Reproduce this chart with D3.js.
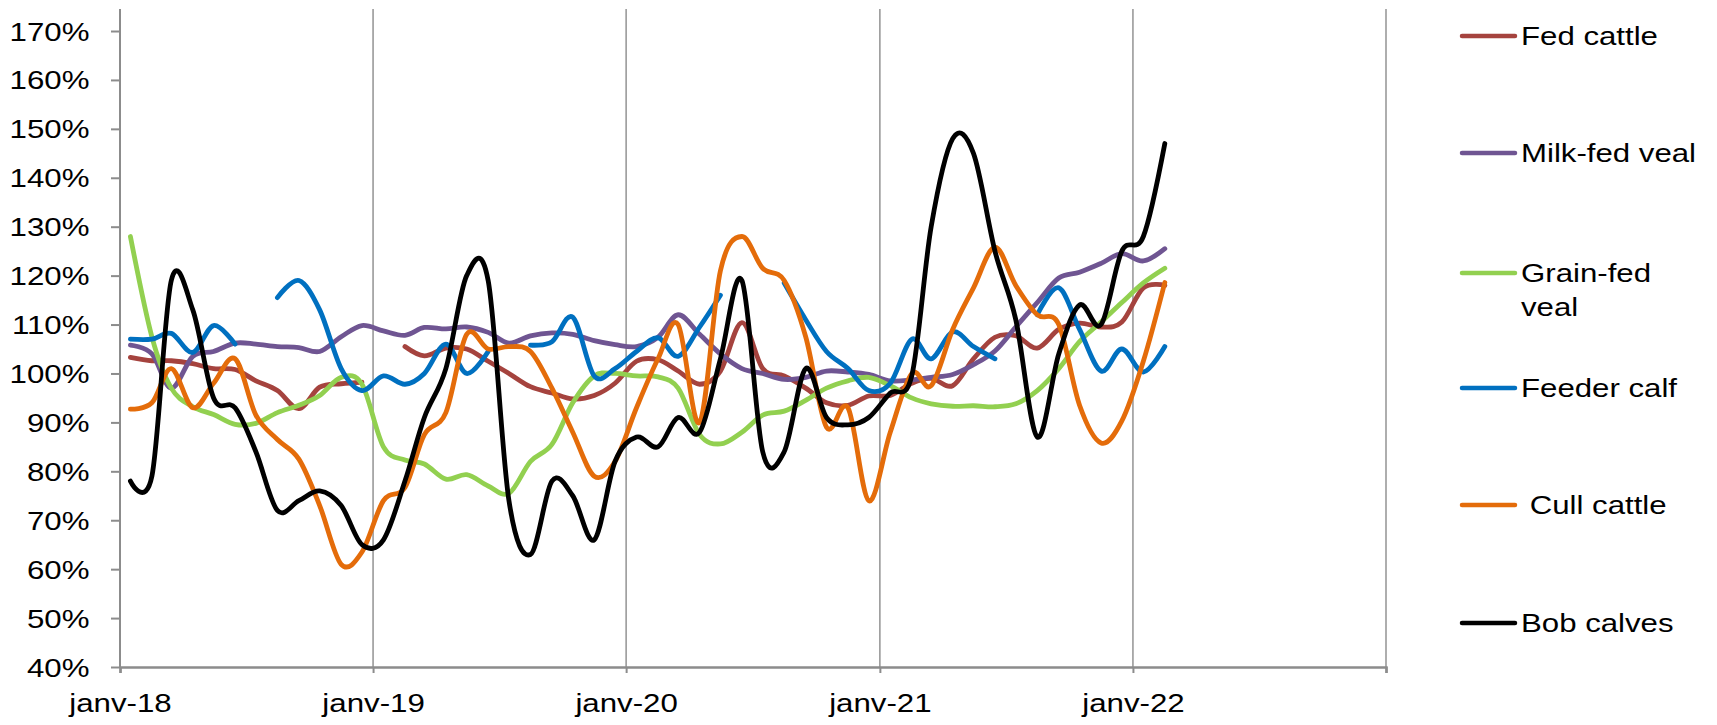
<!DOCTYPE html>
<html>
<head>
<meta charset="utf-8">
<script src="https://cdn.jsdelivr.net/npm/d3@7/dist/d3.min.js"></script>
<style>
  body { margin: 0; background: #fff; }
  svg text { font-family: "Liberation Sans", Arial, sans-serif; fill: #000; }
</style>
</head>
<body>
<svg id="chart" width="1717" height="725"></svg>
<script>
// monthly points, Jan 2018 .. Feb 2022
const months = d3.timeMonth.range(new Date(2018, 0, 1), new Date(2022, 2, 1));

const xTickLabels = ["janv-18", "janv-19", "janv-20", "janv-21", "janv-22", ""];
const yTicks = [40, 50, 60, 70, 80, 90, 100, 110, 120, 130, 140, 150, 160, 170];

const seriesNames = ["Fed cattle", "Milk-fed veal", "Grain-fed veal", "Feeder calf", " Cull cattle", "Bob calves"];
const legendLines = [["Fed cattle"], ["Milk-fed veal"], ["Grain-fed", "veal"], ["Feeder calf"], [" Cull cattle"], ["Bob calves"]];
const colors = ["#A5433E", "#6F5592", "#92D050", "#0070C0", "#E46C0A", "#000000"];

const fedCattle = [103.3, 102.6, 102.6, 102, 101, 100.8, 98.5, 96.5, 92.8, 97.2, 97.9, 98.2, null, 105.5, 103.6, 105.2, 105, 102.5, 100, 97.3,
  96, 94.8, 95.5, 98, 102.5, 102.8, 100.5, 97.8, 100.5, 110.4, 101, 99.5, 97, 94, 93.5, 95.4, 95.5, 98, 99, 97.5,
  103, 107.4, 107.7, 105.2, 109, 110.3, 109.5, 110.5, 117.5, 118];
const milkFedVeal = [105.8, 104, 97, 103.5, 104.5, 106.2, 106, 105.5, 105.3, 104.5, 107.5, 109.8, 108.7, 107.8, 109.4, 109.1, 109.5, 108.4, 106.2, 107.7,
  108.3, 108, 106.7, 105.9, 105.5, 107.4, 112, 108, 104, 101, 100, 98.8, 99.2, 100.5, 100.3, 99.8, 98.5, 98.7, 99.2, 99.8,
  101.8, 104.6, 109.5, 114.5, 119.5, 120.7, 122.5, 124.5, 123, 125.5];
const grainFedVeal = [128, 107.5, 97, 93.2, 91.6, 89.6, 89.8, 92, 93.5, 95.5, 99.2, 97.8, 85, 82.3, 81.5, 78.4, 79.3, 77, 75.5, 82,
  85.5, 94, 99.5, 100, 99.5, 99.3, 97, 87.5, 85.6, 88, 91.5, 92.3, 94.5, 97, 98.5, 99.2, 97.5, 95, 93.8, 93.3,
  93.4, 93.2, 93.8, 96.5, 101, 106.5, 110.5, 114.5, 118.5, 121.5];
const feederCalf = [107, 107, 108.2, 104.3, 109.8, 106, null, 115.5, 119, 113, 101, 96.5, 99.5, 97.8, 100, 106, 100, 104.5, null, 105.8,
  106.5, 111.5, 99.5, 101, 104.5, 107.3, 103.5, 109.5, 116, null, null, 118.5, 111, 104.5, 101, 96.5, 98, 107, 103, 108.5,
  105.5, 103, null, 112, 117.5, 109, 100.5, 105, 100.3, 105.5];
const cullCattle = [92.7, 94, 101, 93, 98, 103, 91.5, 86.5, 82.5, 73, 61, 63.5, 74, 76.7, 87.5, 92, 108, 105, 105.5, 104.5,
  97, 88, 79, 82, 93, 103, 110, 90, 121, 128, 121.5, 119, 107.5, 89, 93, 74, 88, 100, 97.5, 109,
  117.5, 125.8, 118, 112, 110, 93.5, 85.8, 90.3, 102.5, 118.6];
const bobCalves = [78, 79, 119, 113, 95, 93, 84, 72, 74, 76, 73, 65, 66, 78, 91, 101, 120, 119, 74, 63,
  78, 75, 66, 82, 87, 85, 91, 88, 103, 119, 84, 84, 101, 91, 89.5, 91, 96, 99.5, 130, 148,
  145, 125, 111, 87, 104, 114, 110, 125, 128, 147];

const seriesValues = [fedCattle, milkFedVeal, grainFedVeal, feederCalf, cullCattle, bobCalves];

const margin = {left: 120, top: 9, right: 331, bottom: 58};
const width = 1717, height = 725;
const svg = d3.select("#chart");

const x = d3.scaleTime()
  .domain([new Date(2018, 0, 1), new Date(2023, 0, 1)])
  .range([margin.left, width - margin.right]);
const y = d3.scaleLinear()
  .domain([40, 174.5])
  .range([height - margin.bottom, margin.top]);

const xMid = d => new Date(d.getFullYear(), d.getMonth(), 16);
const yearTicks = d3.timeYear.range(new Date(2018, 0, 1), new Date(2023, 0, 2));

// vertical gridlines
svg.append("g")
  .selectAll("line")
  .data(yearTicks.slice(1))
  .join("line")
  .attr("x1", d => x(d)).attr("x2", d => x(d))
  .attr("y1", margin.top).attr("y2", y(40))
  .attr("stroke", "#939393").attr("stroke-width", 1.5);

// y axis
const yAxis = svg.append("g")
  .attr("transform", "translate(" + margin.left + ",0)")
  .call(d3.axisLeft(y).tickValues(yTicks).tickSize(9).tickFormat(d => d + "%"));
yAxis.select(".domain").attr("d", "M0," + margin.top + "V" + y(40)).attr("stroke", "#8c8c8c").attr("stroke-width", 2);
yAxis.selectAll(".tick line").attr("stroke", "#8c8c8c").attr("stroke-width", 2);
yAxis.selectAll(".tick text")
  .attr("font-size", 25)
  .attr("x", -30.5 / 1.25)
  .attr("dy", "0.36em")
  .attr("transform", "scale(1.25,1)");

// x axis
const xAxis = svg.append("g")
  .attr("transform", "translate(0," + y(40) + ")")
  .call(d3.axisBottom(x).tickValues(yearTicks).tickSize(6).tickFormat((d, i) => xTickLabels[i]));
xAxis.select(".domain").attr("stroke", "#8c8c8c").attr("stroke-width", 2.5);
xAxis.selectAll(".tick line").attr("stroke", "#8c8c8c").attr("stroke-width", 2);
xAxis.selectAll(".tick text")
  .attr("font-size", 25)
  .attr("y", 45)
  .attr("dy", 0)
  .attr("transform", "scale(1.25,1)")
  .attr("x", 0);

// series lines
const line = d3.line()
  .defined(d => d.v != null)
  .x(d => x(xMid(d.date)))
  .y(d => y(d.v))
  .curve(d3.curveCardinal);

seriesValues.forEach((vals, k) => {
  svg.append("path")
    .datum(months.map((m, i) => ({date: m, v: vals[i]})))
    .attr("fill", "none")
    .attr("stroke", colors[k])
    .attr("stroke-width", 4.8)
    .attr("stroke-linejoin", "round")
    .attr("stroke-linecap", "round")
    .attr("d", line);
});

// legend
const legendY = [36, 153, 273, 388, 505, 623];
const legend = svg.append("g");
legendLines.forEach((lines, k) => {
  const g = legend.append("g").attr("transform", "translate(1462," + legendY[k] + ")");
  g.append("line")
    .attr("x1", 0).attr("x2", 53)
    .attr("stroke", colors[k]).attr("stroke-width", 4.5).attr("stroke-linecap", "round");
  lines.forEach((t, j) => {
    g.append("text")
      .attr("transform", "translate(59," + (j * 34) + ") scale(1.2,1)")
      .attr("dy", "0.36em")
      .attr("font-size", 26)
      .style("white-space", "pre")
      .text(t);
  });
});
</script>
</body>
</html>
